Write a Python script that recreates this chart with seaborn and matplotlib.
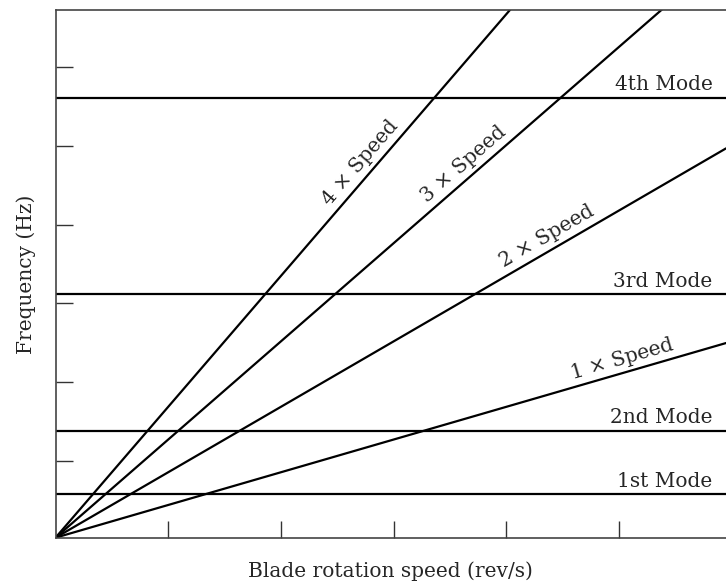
import numpy as np
import pandas as pd
import matplotlib
matplotlib.use("Agg")
import matplotlib.pyplot as plt
import seaborn as sns

# ---- data ----
speed_multipliers = [1, 2, 3, 4]
speed_labels = ["1 × Speed", "2 × Speed", "3 × Speed", "4 × Speed"]
speed_label_x = [50.6, 44.2, 37.0, 28.0]          # rev/s where each label sits
mode_names = ["1st Mode", "2nd Mode", "3rd Mode", "4th Mode"]
mode_freqs = [13.3, 32.6, 74.4, 134.5]            # Hz
x_ticks = [10, 20, 30, 40, 50]
y_ticks = [23.4, 47.5, 71.6, 95.7, 119.8, 143.9]
x_max = 59.5
y_max = 161.3

sns.set_style("white")
plt.rcParams["font.family"] = ["DejaVu Serif"]
FS = 14.5

fig = plt.figure(figsize=(7.26, 5.83), dpi=100)
ax = fig.add_axes([55.5 / 726, (583 - 537.7) / 583, (726 - 55.5) / 726, 527.7 / 583])

speed_df = pd.DataFrame(
    [{"speed": s, "freq": m * s, "line": lab}
     for m, lab in zip(speed_multipliers, speed_labels) for s in (0.0, x_max)]
)
mode_df = pd.DataFrame(
    [{"speed": s, "freq": f, "line": n}
     for f, n in zip(mode_freqs, mode_names) for s in (0.0, x_max)]
)
sns.lineplot(data=speed_df, x="speed", y="freq", hue="line",
             palette=["black"] * len(speed_labels), legend=False,
             linewidth=1.6, ax=ax)
sns.lineplot(data=mode_df, x="speed", y="freq", hue="line",
             palette=["black"] * len(mode_names), legend=False,
             linewidth=1.6, ax=ax)

ax.set_xlim(0, x_max)
ax.set_ylim(0, y_max)
ax.set_xticks(x_ticks)
ax.set_yticks(y_ticks)
ax.tick_params(direction="in", length=12.2, width=1.0, color="#333333",
               labelbottom=False, labelleft=False, bottom=True, left=True)
ax.spines["right"].set_visible(False)
for sp in ("top", "left", "bottom"):
    ax.spines[sp].set_color("#444444")
    ax.spines[sp].set_linewidth(1.2)
ax.grid(False)

ax.set_xlabel("Blade rotation speed (rev/s)", fontsize=FS)
ax.set_ylabel("Frequency (Hz)", fontsize=FS)
ax.xaxis.set_label_coords(0.5, -0.044)
ax.yaxis.set_label_coords(-0.029, 0.5)

# speed labels along the lines
p0 = ax.transData.transform((0, 0))
for m, lab, xl in zip(speed_multipliers, speed_labels, speed_label_x):
    p1 = ax.transData.transform((10, 10 * m))
    th = np.arctan2(p1[1] - p0[1], p1[0] - p0[0])
    off = 3.0
    ax.annotate(lab, xy=(xl, m * xl), xytext=(-np.sin(th) * off, np.cos(th) * off),
                textcoords="offset points", rotation=np.degrees(th),
                rotation_mode="anchor", ha="center", va="bottom", fontsize=FS)

for f, n in zip(mode_freqs, mode_names):
    ax.annotate(n, xy=(58.3, f), xytext=(0, 5.5), textcoords="offset points",
                ha="right", va="baseline", fontsize=FS)

fig.savefig("out.png", dpi=100)
